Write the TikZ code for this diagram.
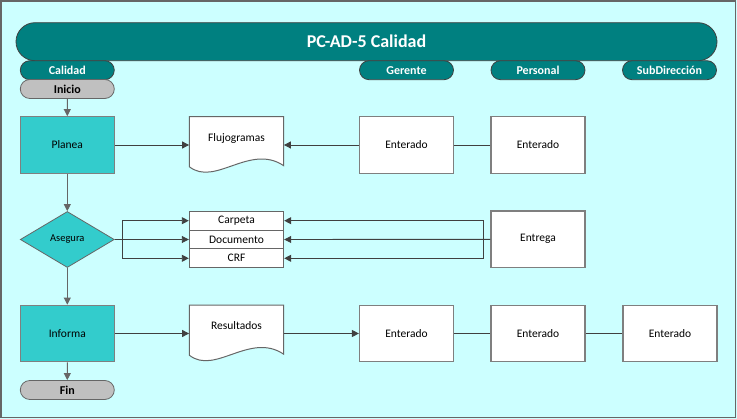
\documentclass[tikz,border=0pt]{standalone}
\usepackage{fontspec}
\setmainfont{Carlito}
\usetikzlibrary{shapes.geometric, shapes.misc, arrows.meta}

\definecolor{fondo}{HTML}{CCFFFF}
\definecolor{verdeazul}{HTML}{008080}
\definecolor{turquesa}{HTML}{33CCCC}
\definecolor{grisclaro}{HTML}{C0C0C0}
\definecolor{linea}{HTML}{404040}
\definecolor{borde}{HTML}{7F7F7F}

\tikzset{
  titulo/.style={rounded rectangle, fill=verdeazul, draw=linea, line width=0.8pt, minimum width=701pt, minimum height=38pt, inner sep=0pt, text=white, font=\fontsize{18}{20}\selectfont\bfseries},
  carril/.style={rounded rectangle, fill=verdeazul, draw=linea, line width=0.8pt, minimum width=94pt, minimum height=19pt, inner sep=0pt, text=white, font=\fontsize{12}{14}\selectfont\bfseries},
  terminal/.style={carril, fill=grisclaro, draw=borde!80!black, text=black},
  proceso/.style={rectangle, fill=turquesa, draw=borde, line width=1.2pt, minimum width=94pt, minimum height=56.5pt, font=\fontsize{11.5}{13}\selectfont},
  caja/.style={proceso, fill=white},
  decision/.style={diamond, fill=turquesa, draw=borde!80!black, line width=0.8pt, minimum width=94pt, minimum height=56pt, inner sep=0pt, font=\fontsize{10.5}{12}\selectfont},
  documento/.style={rectangle, minimum width=94.4pt, minimum height=56.6pt, text height=8pt, text depth=15.6pt, font=\fontsize{11.5}{13}\selectfont},
  hoja/.style={fill=white, draw=borde!80!black, line width=1pt},
  pila/.style={rectangle, fill=white, draw=borde!80!black, line width=1pt, minimum width=94.4pt, minimum height=18.8pt, inner sep=0pt, font=\fontsize{11.5}{13}\selectfont},
  flecha/.style={draw=linea, line width=0.9pt, -{Triangle[length=7pt,width=7pt]}},
  bajada/.style={flecha, draw=gray!80!black},
  enlace/.style={draw=linea, line width=0.9pt},
}

% hoja de documento con borde ondulado abajo
\newcommand\hojadoc[3]{%
  \begin{scope}[shift={#2}]
    \filldraw[hoja] (-47.2,-28.3) -- (47.2,-28.3) -- (47.2,20.7)
      .. controls (13.5,-2) and (-21.5,42) .. (-47.2,21.7) -- cycle;
  \end{scope}
  \node[documento] (#1) at #2 {#3};}

\begin{document}
\begin{tikzpicture}[x=1pt, y=-1pt]

% fondo
\fill[fondo] (0,0) rectangle (737,419);
\draw[linea!80, line width=1.5pt] (1,1) rectangle (735.5,417.5);

% encabezados
\node[titulo] (proc) at (366.5,41.7) {PC-AD-5 Calidad};
\node[carril] (calidad) at (67.3,70.2) {Calidad};
\node[carril] (gerente) at (406.5,70.2) {Gerente};
\node[carril] (personal) at (538,70.2) {Personal};
\node[carril] (subdir) at (669.5,70.2) {SubDirección};

\node[terminal] (inicio) at (67.3,89) {Inicio};

% fila 1
\node[proceso] (planea) at (67.3,145) {Planea};
\hojadoc{flujo}{(236.5,145)}{Flujogramas}
\node[caja] (ger1) at (406.5,145) {Enterado};
\node[caja] (per1) at (538,145) {Enterado};

% fila 2
\node[decision] (asegura) at (67.3,239.5) {Asegura};
\node[pila] (carpeta) at (236.5,220.7) {Carpeta};
\node[pila] (docum) at (236.5,239.5) {Documento};
\node[pila] (crf) at (236.5,258.3) {CRF};
\node[caja] (entrega) at (538,239.3) {Entrega};

% fila 3
\node[proceso] (informa) at (67.3,333.5) {Informa};
\hojadoc{resultados}{(236.5,333.5)}{Resultados}
\node[caja] (ger2) at (406.5,333.5) {Enterado};
\node[caja] (per2) at (538,333.5) {Enterado};
\node[caja] (sub2) at (670,333.5) {Enterado};

\node[terminal] (fin) at (67.3,390) {Fin};

% conexiones
\draw[bajada] (inicio) -- (planea);
\draw[flecha] (planea) -- (flujo);
\draw[flecha] (ger1) -- (flujo);
\draw[enlace] (per1) -- (ger1);

\draw[bajada] (planea) -- (asegura);
\draw[flecha] (asegura.east) -- (docum.west);
\draw[flecha] (asegura.east) -- ++(7.5,0) |- (carpeta.west);
\draw[flecha] (asegura.east) -- ++(7.5,0) |- (crf.west);
\draw[flecha] (entrega.west) -- (docum.east);
\draw[flecha] (entrega.west) -- ++(-7,0) |- (carpeta.east);
\draw[flecha] (entrega.west) -- ++(-7,0) |- (crf.east);

\draw[bajada] (asegura) -- (informa);
\draw[flecha] (informa) -- (resultados);
\draw[flecha] (resultados) -- (ger2);
\draw[enlace] (ger2) -- (per2) -- (sub2);
\draw[bajada] (informa) -- (fin);

\end{tikzpicture}
\end{document}
